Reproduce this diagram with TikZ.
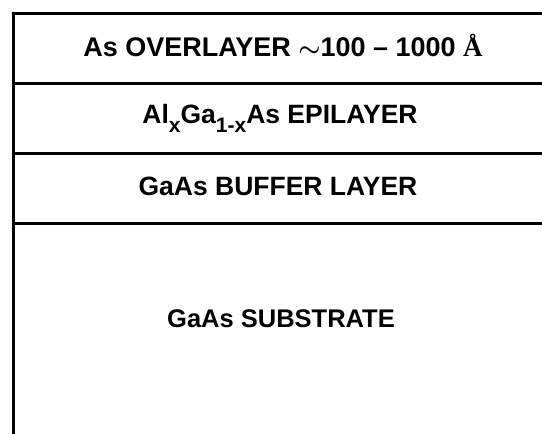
\documentclass[tikz,border=0pt]{standalone}
\usepackage{fontspec}
\setmainfont{Liberation Sans}
\newfontfamily\serifA{Liberation Serif}
\newcommand{\lsub}[1]{\raisebox{-9.5pt}{\fontsize{21}{21}\selectfont #1}}
\begin{document}
\begin{tikzpicture}[x=1pt,y=-1pt,
  layerline/.style={line width=3pt, line cap=rect},
  lab/.style={inner sep=0pt, anchor=base},
  fs/.style={font=\fontsize{#1}{#1}\selectfont\bfseries}]
\useasboundingbox (0,0) rectangle (542,434);
\coordinate (c0l) at (13,13);   \coordinate (c0r) at (542,13);
\coordinate (c1l) at (13,83);   \coordinate (c1r) at (542,83);
\coordinate (c2l) at (13,153);  \coordinate (c2r) at (542,153);
\coordinate (c3l) at (13,223);  \coordinate (c3r) at (542,223);
\coordinate (bot) at (13,434);
\draw[layerline] (bot) -- (c0l) -- (c0r);
\draw[layerline] (c1l) -- (c1r);
\draw[layerline] (c2l) -- (c2r);
\draw[layerline] (c3l) -- (c3r);
\node[lab, fs=27] (over) at (283,56) {As OVERLAYER {\boldmath$\sim$}100 -- 1000 {\serifA Å}};
\node[lab, fs=26.5] (epi) at (280,123) {Al\lsub{x}Ga\lsub{1-x}As EPILAYER};
\node[lab, fs=26.5] (buf) at (278,195) {GaAs BUFFER LAYER};
\node[lab, fs=25.5] (sub) at (281,327) {GaAs SUBSTRATE};
\end{tikzpicture}
\end{document}
